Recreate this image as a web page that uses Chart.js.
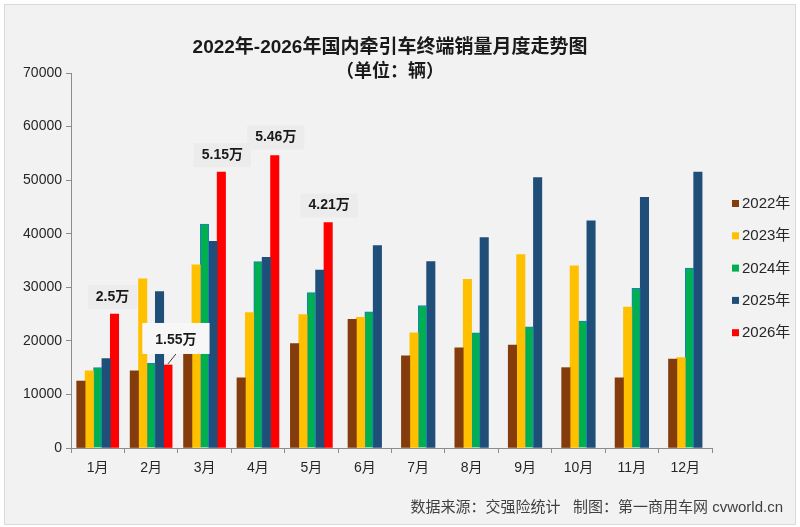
<!DOCTYPE html>
<html>
<head>
<meta charset="utf-8">
<script src="https://cdn.jsdelivr.net/npm/chart.js@4/dist/chart.umd.min.js"></script>
<style>
html,body{margin:0;padding:0;background:#fff;}
#wrap{width:800px;height:527px;}
</style>
</head>
<body>
<div id="wrap"><canvas id="c" width="800" height="527"></canvas></div>
<script>
const months = ['1月','2月','3月','4月','5月','6月','7月','8月','9月','10月','11月','12月'];
const seriesNames = ['2022年','2023年','2024年','2025年','2026年'];
const sales2022 = [12500, 14400, 18500, 13100, 19500, 24000, 17200, 18700, 19200, 15000, 13100, 16600];
const sales2023 = [14400, 31600, 34200, 25300, 24900, 24400, 21500, 31500, 36100, 34000, 26300, 16900];
const sales2024 = [15000, 15800, 41800, 34800, 29000, 25400, 26600, 21500, 22600, 23700, 29800, 33600];
const sales2025 = [16700, 29200, 38600, 35600, 33200, 37800, 34800, 39300, 50500, 42400, 46800, 51500];
const sales2026 = [25000, 15500, 51500, 54600, 42100, null, null, null, null, null, null, null];
const labels2026 = ['2.5万', '1.55万', '5.15万', '5.46万', '4.21万'];
const yTicks = [0, 10000, 20000, 30000, 40000, 50000, 60000, 70000];
const titleText = '2022年-2026年国内牵引车终端销量月度走势图';
const subtitleText = '（单位：辆）';
const footerText = '数据来源：交强险统计   制图：第一商用车网 cvworld.cn';

const colors = ['#843c0c', '#ffc000', '#00b050', '#1f4e79', '#ff0000'];
const FONT = '"Liberation Sans", Arial, "Noto Sans CJK SC", sans-serif';
const allSeries = [sales2022, sales2023, sales2024, sales2025, sales2026];

const datasets = allSeries.map((d, i) => ({
  label: seriesNames[i],
  data: d,
  backgroundColor: colors[i],
  borderColor: i === 2 ? '#1a7fc0' : colors[i],
  borderWidth: i === 2 ? 1 : 0,
  borderSkipped: 'start',
  barThickness: 8.4,
  skipNull: true
}));

// annotation offsets relative to the 2026 bar (label centre)
const annOffsets = [[-2, -17], [8, -25], [1, -17], [1, -18], [1, -17]];

const bgPlugin = {
  id: 'bg',
  beforeDraw(chart) {
    const ctx = chart.ctx;
    ctx.save();
    ctx.fillStyle = '#ffffff';
    ctx.fillRect(0, 0, chart.width, chart.height);
    ctx.fillStyle = '#f2f2f2';
    ctx.fillRect(4, 4, 792, 520);
    ctx.strokeStyle = '#d9d9d9';
    ctx.lineWidth = 1;
    ctx.strokeRect(4.5, 4.5, 791, 520);
    // title
    ctx.fillStyle = '#1a1a1a';
    ctx.textAlign = 'center';
    ctx.textBaseline = 'middle';
    ctx.font = 'bold 19px ' + FONT;
    ctx.fillText(titleText, 390, 48);
    ctx.font = 'bold 18px ' + FONT;
    ctx.fillText(subtitleText, 390, 72);
    // footer
    ctx.font = '15px ' + FONT;
    ctx.fillStyle = '#404040';
    ctx.textAlign = 'right';
    ctx.fillText(footerText, 783, 508);
    // legend
    ctx.font = '15px ' + FONT;
    ctx.textAlign = 'left';
    chart.data.datasets.forEach((ds, i) => {
      const y = 203.5 + i * 32.3;
      ctx.fillStyle = ds.backgroundColor;
      ctx.fillRect(732, y - 3.5, 7, 7);
      ctx.fillStyle = '#262626';
      ctx.fillText(ds.label, 742, y + 0.5);
    });
    ctx.restore();
  },
  afterDatasetsDraw(chart) {
    const ctx = chart.ctx;
    const meta = chart.getDatasetMeta(4);
    ctx.save();
    ctx.font = 'bold 14px ' + FONT;
    ctx.textAlign = 'center';
    ctx.textBaseline = 'middle';
    labels2026.forEach((t, i) => {
      const bar = meta.data[i];
      if (!bar) return;
      const cx = bar.x + annOffsets[i][0];
      const cy = bar.y + annOffsets[i][1];
      const w = ctx.measureText(t).width + 16;
      const h = 24;
      if (i === 1) {
        ctx.strokeStyle = '#404040';
        ctx.lineWidth = 1;
        ctx.beginPath();
        ctx.moveTo(bar.x, bar.y - 1);
        ctx.lineTo(cx, cy + 14);
        ctx.stroke();
        ctx.fillStyle = '#f7f7f7';
        ctx.fillRect(cx - w / 2 - 5, cy - 17, w + 10, 31);
      } else {
        ctx.fillStyle = '#ececec';
        ctx.fillRect(cx - w / 2, cy - h / 2, w, h);
      }
      ctx.fillStyle = '#1a1a1a';
      ctx.fillText(t, cx, cy);
    });
    ctx.restore();
  }
};

new Chart(document.getElementById('c'), {
  type: 'bar',
  data: { labels: months, datasets },
  options: {
    responsive: false,
    animation: false,
    devicePixelRatio: 1,
    layout: { padding: { top: 73, right: 88, bottom: 49, left: 0 } },
    plugins: { legend: { display: false }, tooltip: { enabled: false }, title: { display: false } },
    scales: {
      x: {
        grid: { display: true, drawOnChartArea: false, drawTicks: true, tickLength: 5, color: '#8c8c8c', offset: true },
        border: { display: true, color: '#8c8c8c', width: 1 },
        ticks: { color: '#262626', font: { size: 14, family: FONT }, padding: 7, maxRotation: 0, autoSkip: false },
        afterFit(scale) { scale.height = 30; }
      },
      y: {
        min: 0, max: 70000,
        afterBuildTicks(scale) { scale.ticks = yTicks.map(v => ({ value: v })); },
        grid: { display: true, drawOnChartArea: false, drawTicks: true, tickLength: 5, color: '#8c8c8c' },
        border: { display: true, color: '#8c8c8c', width: 1 },
        ticks: { color: '#262626', font: { size: 14, family: FONT }, padding: 4, callback: v => String(v) },
        afterFit(scale) { scale.width = 71; }
      }
    }
  },
  plugins: [bgPlugin]
});
</script>
</body>
</html>
